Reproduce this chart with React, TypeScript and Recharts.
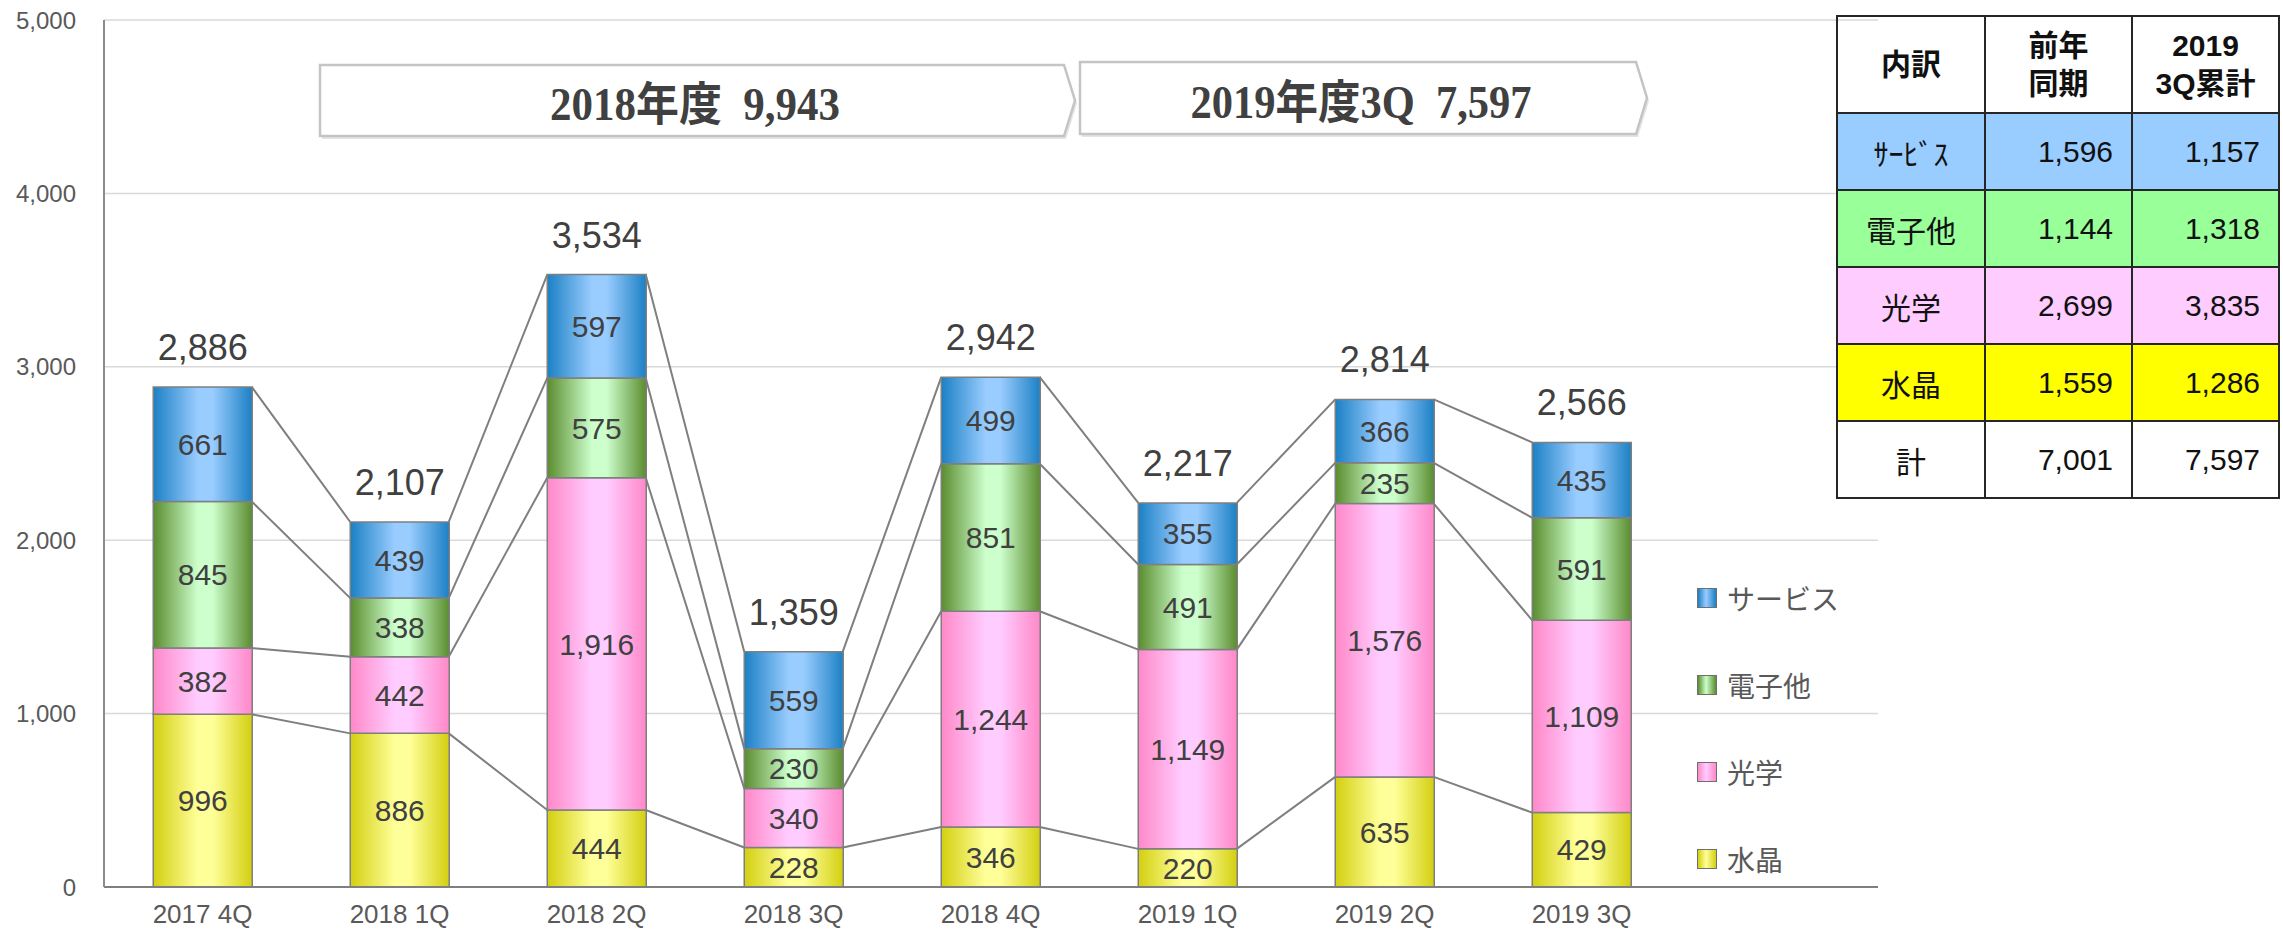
import { ComposedChart, Bar, Line, XAxis, YAxis, CartesianGrid, LabelList, Legend } from "recharts";

// 四半期ごとの売上（セグメント別）
const categories = ["2017 4Q", "2018 1Q", "2018 2Q", "2018 3Q", "2018 4Q", "2019 1Q", "2019 2Q", "2019 3Q"];
const crystal = [996, 886, 444, 228, 346, 220, 635, 429];
const optics = [382, 442, 1916, 340, 1244, 1149, 1576, 1109];
const electronics = [845, 338, 575, 230, 851, 491, 235, 591];
const service = [661, 439, 597, 559, 499, 355, 366, 435];
const totals = [2886, 2107, 3534, 1359, 2942, 2217, 2814, 2566];
const yTicks = [0, 1000, 2000, 3000, 4000, 5000];

// 年度合計の矢印ラベル
const fiscalLabels = ["2018年度  9,943", "2019年度3Q  7,597"];

// 右上の表
const tableHeader = ["内訳", "前年\n同期", "2019\n3Q累計"];
const tableRows = [
  { label: "ｻｰﾋﾞｽ", prev: 1596, cur: 1157, bg: "#99CCFF" },
  { label: "電子他", prev: 1144, cur: 1318, bg: "#99FF99" },
  { label: "光学", prev: 2699, cur: 3835, bg: "#FFCCFF" },
  { label: "水晶", prev: 1559, cur: 1286, bg: "#FFFF00" },
  { label: "計", prev: 7001, cur: 7597, bg: "transparent" },
];

const series = [
  { key: "crystal", name: "水晶", grad: "gYellow", edge: "#D3CF10", light: "#FFFF99" },
  { key: "optics", name: "光学", grad: "gPink", edge: "#FF88C8", light: "#FFCCFF" },
  { key: "electronics", name: "電子他", grad: "gGreen", edge: "#5A8C2E", light: "#CCFFCC" },
  { key: "service", name: "サービス", grad: "gBlue", edge: "#1B80C4", light: "#99CCFF" },
];

const BAR_GAP = 0.25; // barCategoryGap (片側) の割合

const rows = categories.map((name, i) => ({
  name,
  crystal: crystal[i],
  optics: optics[i],
  electronics: electronics[i],
  service: service[i],
  total: totals[i],
}));

// 積み上げ境界ごとの区分線データ（棒の右端 -> 次の棒の左端）
const levels = series.map((_, k) =>
  rows.map((r) => series.slice(0, k + 1).reduce((s, sr) => s + (r as any)[sr.key], 0))
);
const connectorData = levels.map((lv) => {
  const pts: { x: number; y: number | null }[] = [];
  for (let i = 0; i < lv.length - 1; i++) {
    pts.push({ x: i + 1 - BAR_GAP, y: lv[i] });
    pts.push({ x: i + 1 + BAR_GAP, y: lv[i + 1] });
    pts.push({ x: i + 1.5, y: null });
  }
  return pts;
});

const fmt = (v: any) => Number(v).toLocaleString("en-US");
const FONT = "'Liberation Sans', Arial, 'Noto Sans CJK JP', sans-serif";

const XTick = ({ x, y, payload }: any) => (
  <text x={x} y={y + 30} textAnchor="middle" fontSize={26} fill="#595959" fontFamily={FONT}>
    {payload.value}
  </text>
);

const renderLegend = () => (
  <div style={{ display: "flex", flexDirection: "column", fontFamily: FONT }}>
    {[...series].reverse().map((s) => (
      <div key={s.key} style={{ display: "flex", alignItems: "center", height: 87 }}>
        <div
          style={{
            width: 18,
            height: 18,
            border: "1.5px solid #6f6f6f",
            background: `linear-gradient(to right, ${s.edge}, ${s.light} 45%, ${s.edge})`,
            marginRight: 10,
          }}
        />
        <span style={{ fontSize: 28, color: "#595959" }}>{s.name}</span>
      </div>
    ))}
  </div>
);

const arrows = [
  { x0: 320, x1: 1064, tip: 1075, y0: 65, y1: 136, tx: 695, ty: 120, tl: 290 },
  { x0: 1080, x1: 1636, tip: 1647, y0: 62, y1: 134, tx: 1361, ty: 118, tl: 341 },
];

export default function App() {
  return (
    <div style={{ position: "absolute", left: 0, top: 0, width: 2283, height: 930, background: "#fff", overflow: "hidden" }}>
      <ComposedChart
        width={2283}
        height={930}
        data={rows}
        margin={{ top: 20, right: 405, left: 0, bottom: 0 }}
        barCategoryGap={`${BAR_GAP * 100}%`}
      >
        <defs>
          {series.map((s) => (
            <linearGradient key={s.grad} id={s.grad} x1="0" y1="0" x2="1" y2="0">
              <stop offset="0%" stopColor={s.edge} />
              <stop offset="45%" stopColor={s.light} />
              <stop offset="60%" stopColor={s.light} />
              <stop offset="100%" stopColor={s.edge} />
            </linearGradient>
          ))}
        </defs>
        <CartesianGrid vertical={false} stroke="#D9D9D9" strokeWidth={1.5} />
        <XAxis
          dataKey="name"
          height={43}
          padding={{ left: 0, right: 198 }}
          tickLine={false}
          tickMargin={0}
          axisLine={{ stroke: "#7F7F7F", strokeWidth: 2 }}
          tick={<XTick />}
          interval={0}
        />
        <XAxis xAxisId="num" type="number" dataKey="x" domain={[0, categories.length]} padding={{ left: 0, right: 198 }} hide allowDataOverflow />
        <YAxis
          width={104}
          domain={[0, 5000]}
          ticks={yTicks}
          tickFormatter={fmt}
          tickLine={false}
          tickSize={28}
          tickMargin={0}
          axisLine={{ stroke: "#8C8C8C", strokeWidth: 2 }}
          tick={{ fontSize: 24, fill: "#595959", fontFamily: FONT }}
        />
        {connectorData.map((d, k) => (
          <Line
            key={`conn-${k}`}
            xAxisId="num"
            data={d}
            dataKey="y"
            type="linear"
            stroke="#7F7F7F"
            strokeWidth={2}
            dot={false}
            activeDot={false}
            connectNulls={false}
            legendType="none"
            isAnimationActive={false}
          />
        ))}
        {series.map((s) => (
          <Bar
            key={s.key}
            dataKey={s.key}
            name={s.name}
            stackId="a"
            fill={`url(#${s.grad})`}
            stroke="#7F7F7F"
            strokeWidth={1.5}
            isAnimationActive={false}
          >
            <LabelList dataKey={s.key} position="center" formatter={fmt} fontSize={30} fill="#404040" fontFamily={FONT} />
            {s.key === "service" && (
              <LabelList dataKey="total" position="top" offset={27} formatter={fmt} fontSize={36} fill="#404040" fontFamily={FONT} />
            )}
          </Bar>
        ))}
        <Legend
          layout="vertical"
          align="center"
          verticalAlign="middle"
          content={renderLegend}
          wrapperStyle={{ position: "absolute", left: 1697, top: 554, width: 250, height: 350 }}
        />
      </ComposedChart>

      {/* 年度合計の矢印 */}
      <svg width={2283} height={930} style={{ position: "absolute", left: 0, top: 0, pointerEvents: "none" }}>
        {arrows.map((a, i) => (
          <g key={i}>
            <polygon
              points={`${a.x0 + 2},${a.y0 + 3} ${a.x1 + 2},${a.y0 + 3} ${a.tip + 2},${(a.y0 + a.y1) / 2 + 3} ${a.x1 + 2},${a.y1 + 3} ${a.x0 + 2},${a.y1 + 3}`}
              fill="#E4E4E4"
            />
            <polygon
              points={`${a.x0},${a.y0} ${a.x1},${a.y0} ${a.tip},${(a.y0 + a.y1) / 2} ${a.x1},${a.y1} ${a.x0},${a.y1}`}
              fill="#fff"
              stroke="#C4C4C4"
              strokeWidth={2.5}
            />
            <text
              x={a.tx}
              y={a.ty}
              textAnchor="middle"
              fontSize={46}
              fontWeight="bold"
              fill="#404040"
              fontFamily="'Liberation Serif', 'Noto Sans CJK JP', serif"
              textLength={a.tl}
              lengthAdjust="spacingAndGlyphs"
              style={{ whiteSpace: "pre" }}
            >
              {fiscalLabels[i]}
            </text>
          </g>
        ))}
      </svg>

      {/* 右上の表 */}
      <table
        style={{
          position: "absolute",
          left: 1836,
          top: 15,
          borderCollapse: "collapse",
          fontFamily: FONT,
          fontSize: 30,
          color: "#111",
        }}
      >
        <tbody>
          <tr style={{ height: 97 }}>
            {tableHeader.map((h, i) => (
              <th
                key={i}
                style={{
                  width: i === 0 ? 146 : 145,
                  border: "2px solid #262626",
                  fontWeight: "bold",
                  lineHeight: "38px",
                  whiteSpace: "pre",
                  padding: 0,
                }}
              >
                {h}
              </th>
            ))}
          </tr>
          {tableRows.map((r) => (
            <tr key={r.label} style={{ height: 77, background: r.bg }}>
              <td style={{ border: "2px solid #262626", textAlign: "center", padding: 0 }}>{r.label}</td>
              <td style={{ border: "2px solid #262626", textAlign: "right", paddingRight: 18 }}>{fmt(r.prev)}</td>
              <td style={{ border: "2px solid #262626", textAlign: "right", paddingRight: 18 }}>{fmt(r.cur)}</td>
            </tr>
          ))}
        </tbody>
      </table>
    </div>
  );
}
